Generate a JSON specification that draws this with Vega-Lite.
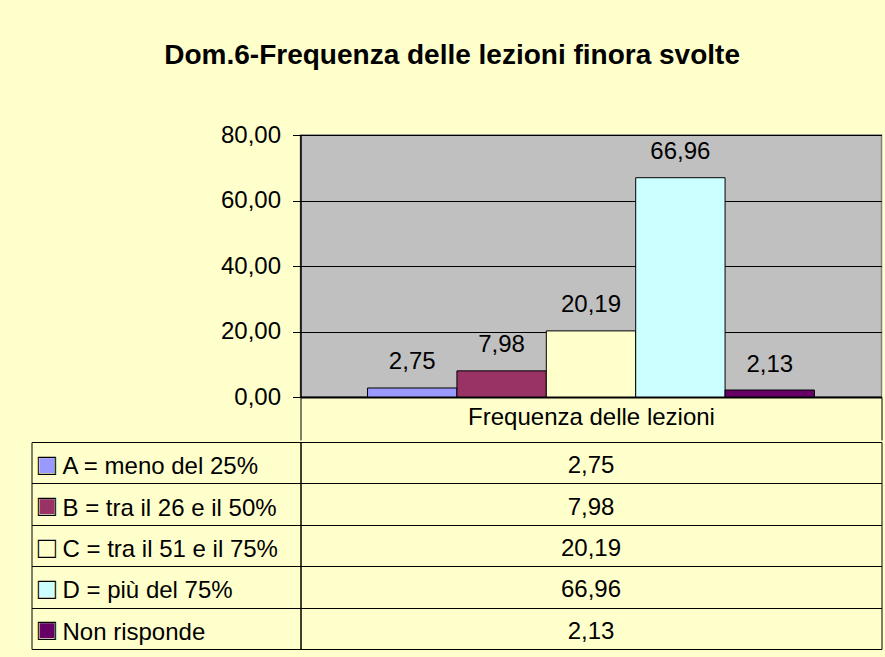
{
  "$schema": "https://vega.github.io/schema/vega-lite/v6.json",
  "background": "#FFFFCC",
  "padding": {"left": 30.5, "top": 42, "right": 3, "bottom": 10},
  "title": {
    "text": "Dom.6-Frequenza delle lezioni finora svolte",
    "font": "Liberation Sans",
    "fontSize": 28,
    "fontWeight": "bold",
    "color": "#000000",
    "anchor": "middle",
    "frame": "bounds",
    "baseline": "alphabetic",
    "offset": 30,
    "dx": -4.5
  },
  "data": {
    "values": [
      {"serie": "Frequenza delle lezioni", "categoria": "A = meno del 25%", "valore": 2.75},
      {"serie": "Frequenza delle lezioni", "categoria": "B = tra il 26 e il 50%", "valore": 7.98},
      {"serie": "Frequenza delle lezioni", "categoria": "C = tra il 51 e il 75%", "valore": 20.19},
      {"serie": "Frequenza delle lezioni", "categoria": "D = più del 75%", "valore": 66.96},
      {"serie": "Frequenza delle lezioni", "categoria": "Non risponde", "valore": 2.13}
    ]
  },
  "spacing": -24,
  "vconcat": [
    {
      "width": 581,
      "height": 262,
      "view": {"fill": "#C0C0C0", "stroke": "#808080", "strokeWidth": 1.5},
      "encoding": {
        "x": {
          "field": "serie",
          "type": "nominal",
          "scale": {"paddingInner": 0, "paddingOuter": 0},
          "axis": {
            "orient": "bottom",
            "title": null,
            "tickBand": "extent",
            "tickSize": 43,
            "tickColor": "#000000",
            "tickWidth": 1,
            "domainColor": "#000000",
            "domainWidth": 2,
            "labelPadding": -35,
            "labelAngle": 0,
            "labelFont": "Liberation Sans",
            "labelFontSize": 24,
            "labelColor": "#000000",
            "labelLimit": 0,
            "grid": false
          }
        },
        "xOffset": {
          "field": "categoria",
          "type": "nominal",
          "sort": null,
          "scale": {"paddingInner": 0, "paddingOuter": 0.75}
        },
        "y": {
          "field": "valore",
          "type": "quantitative",
          "scale": {"domain": [0, 80], "nice": false},
          "axis": {
            "title": null,
            "values": [0, 20, 40, 60, 80],
            "format": ".2f",
            "tickSize": 8,
            "tickColor": "#000000",
            "tickWidth": 1,
            "domainColor": "#000000",
            "domainWidth": 1.5,
            "grid": true,
            "gridColor": "#000000",
            "gridWidth": 1,
            "gridOpacity": 1,
            "labelFont": "Liberation Sans",
            "labelFontSize": 24,
            "labelColor": "#000000",
            "labelPadding": 12
          }
        }
      },
      "layer": [
        {
          "mark": {"type": "bar", "stroke": "#000000", "strokeWidth": 1},
          "encoding": {
            "color": {
              "field": "categoria",
              "type": "nominal",
              "sort": null,
              "scale": {
                "domain": ["A = meno del 25%", "B = tra il 26 e il 50%", "C = tra il 51 e il 75%", "D = più del 75%", "Non risponde"],
                "range": ["#9999FF", "#993366", "#FFFFCC", "#CCFFFF", "#660066"]
              },
              "legend": null
            }
          }
        },
        {
          "mark": {"type": "text", "baseline": "alphabetic", "dy": -18.5, "font": "Liberation Sans", "fontSize": 24, "color": "#000000"},
          "encoding": {
            "text": {"field": "valore", "type": "quantitative", "format": ".2f"}
          }
        }
      ]
    },
    {
      "width": 581,
      "height": 207,
      "view": {"fill": null, "stroke": "#000000", "strokeWidth": 1},
      "layer": [
        {
          "mark": {"type": "text", "baseline": "alphabetic", "dy": 10.5, "font": "Liberation Sans", "fontSize": 24, "color": "#000000"},
          "encoding": {
            "x": {"field": "serie", "type": "nominal", "scale": {"paddingInner": 0, "paddingOuter": 0}, "axis": null},
            "y": {
              "field": "categoria",
              "type": "nominal",
              "sort": null,
              "scale": {"paddingInner": 0, "paddingOuter": 0},
              "axis": {
                "orient": "left",
                "title": null,
                "tickBand": "extent",
                "tickSize": 269,
                "tickColor": "#000000",
                "tickWidth": 1,
                "domain": true,
                "domainColor": "#000000",
                "domainWidth": 1,
                "grid": true,
                "gridColor": "#000000",
                "gridWidth": 1,
                "gridOpacity": 1,
                "labelAlign": "left",
                "labelBaseline": "alphabetic",
                "labelPadding": -30.5,
                "labelOffset": 11,
                "labelFont": "Liberation Sans",
                "labelFontSize": 24,
                "labelColor": "#000000",
                "labelLimit": 0,
                "labelOverlap": false
              }
            },
            "text": {"field": "valore", "type": "quantitative", "format": ".2f"}
          }
        },
        {
          "mark": {"type": "text", "opacity": 0},
          "encoding": {
            "text": {"value": ""},
            "y": {
              "field": "categoria",
              "type": "nominal",
              "sort": null,
              "scale": {"paddingInner": 0, "paddingOuter": 0},
              "axis": {
                "orient": "left",
                "offset": 269,
                "title": null,
                "domain": true,
                "domainColor": "#000000",
                "domainWidth": 1,
                "ticks": false,
                "tickSize": 0,
                "grid": false,
                "labelExpr": "'■'",
                "labelAlign": "left",
                "labelBaseline": "alphabetic",
                "labelPadding": -5.8,
                "labelOffset": 11.5,
                "labelFont": "Liberation Sans",
                "labelFontSize": 30.6,
                "labelOverlap": false,
                "labelColor": {
                  "condition": [
                    {"test": "datum.value === 'A = meno del 25%'", "value": "#9999FF"},
                    {"test": "datum.value === 'B = tra il 26 e il 50%'", "value": "#993366"},
                    {"test": "datum.value === 'C = tra il 51 e il 75%'", "value": "#FFFFCC"},
                    {"test": "datum.value === 'D = più del 75%'", "value": "#CCFFFF"}
                  ],
                  "value": "#660066"
                }
              }
            }
          }
        },
        {
          "mark": {"type": "text", "opacity": 0},
          "encoding": {
            "text": {"value": ""},
            "y": {
              "field": "categoria",
              "type": "nominal",
              "sort": null,
              "scale": {"paddingInner": 0, "paddingOuter": 0},
              "axis": {
                "orient": "left",
                "offset": 269,
                "title": null,
                "domain": false,
                "ticks": false,
                "tickSize": 0,
                "grid": false,
                "labelExpr": "'□'",
                "labelAlign": "left",
                "labelBaseline": "alphabetic",
                "labelPadding": -5.8,
                "labelOffset": 11.5,
                "labelFont": "Liberation Sans",
                "labelFontSize": 30.6,
                "labelOverlap": false,
                "labelColor": "#000000"
              }
            }
          }
        }
      ],
      "resolve": {"scale": {"y": "independent"}, "axis": {"y": "independent"}}
    }
  ],
  "config": {
    "font": "Liberation Sans",
    "concat": {"spacing": -24},
    "locale": {
      "number": {"decimal": ",", "thousands": ".", "grouping": [3], "currency": ["€", ""]}
    }
  }
}
